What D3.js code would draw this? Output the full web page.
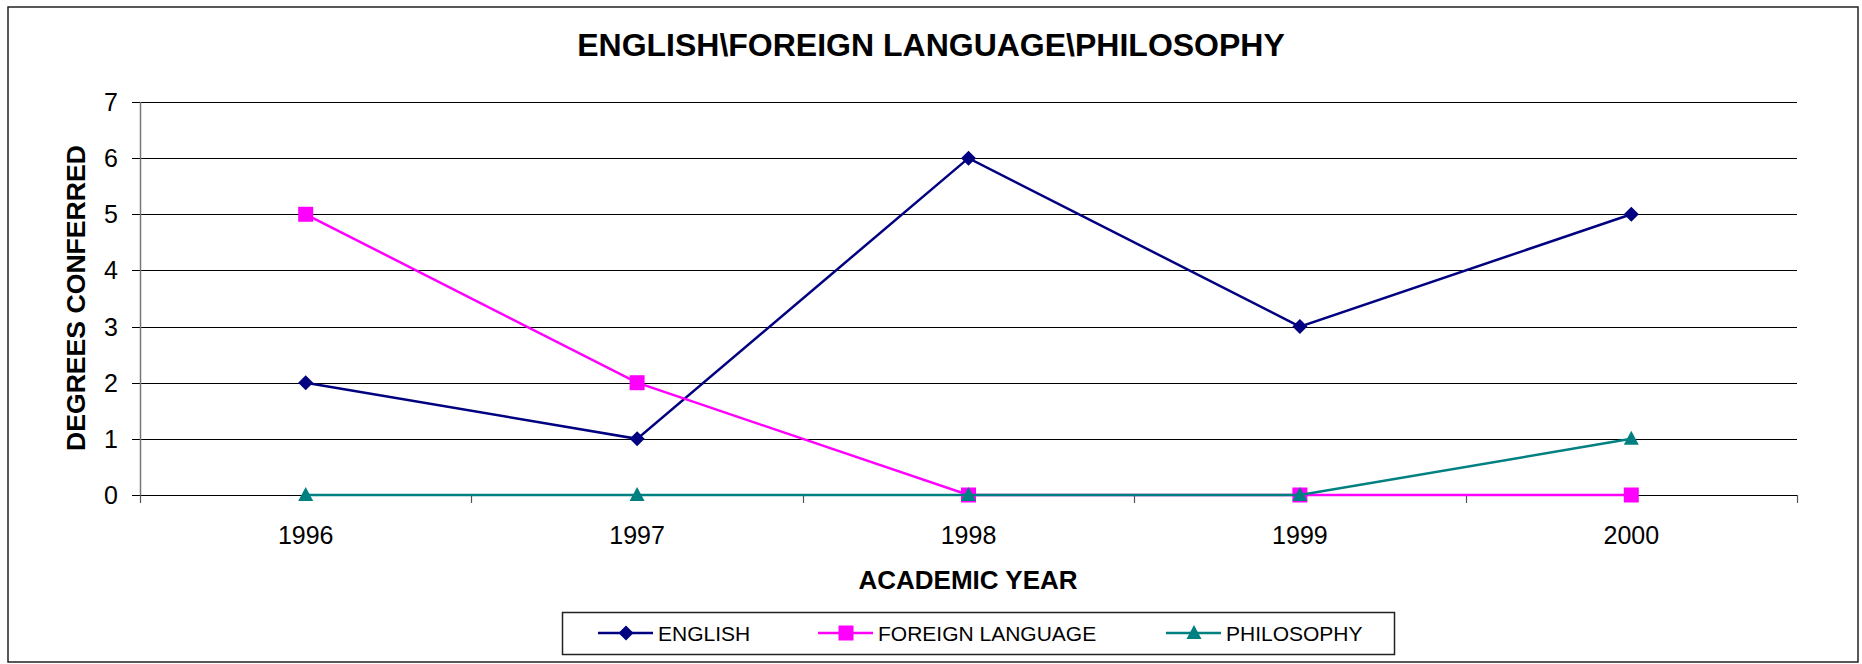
<!DOCTYPE html>
<html>
<head>
<meta charset="utf-8">
<script src="https://cdn.jsdelivr.net/npm/d3@7"></script>
<style>
  html, body { margin: 0; padding: 0; background: #fff; }
  svg text { font-family: Arial, "Liberation Sans", sans-serif; fill: #000; }
</style>
</head>
<body>
<div id="chart"></div>
<script>
// Data
var years = ["1996", "1997", "1998", "1999", "2000"];
var english = [2, 1, 6, 3, 5];
var foreign_language = [5, 2, 0, 0, 0];
var philosophy = [0, 0, 0, 0, 1];
var y_ticks = [0, 1, 2, 3, 4, 5, 6, 7];
var series_names = ["ENGLISH", "FOREIGN LANGUAGE", "PHILOSOPHY"];

(function () {
  "use strict";

  ////////////////////////////////////////////////////////////////////////////////////////////////////////////
  //
  // Variables
  //
  var w = 1862;
  var h = 664;
  var plot_l = 140, plot_r = 1797, plot_t = 102, plot_b = 495;

  var series = [
    {name: series_names[0], values: english, color: "#000080", marker: "diamond"},
    {name: series_names[1], values: foreign_language, color: "#ff00ff", marker: "square"},
    {name: series_names[2], values: philosophy, color: "#008080", marker: "triangle"}
  ];

  var x = d3.scaleBand().domain(years).range([plot_l, plot_r]);
  var y = d3.scaleLinear().domain([0, 7]).range([plot_b, plot_t]);

  var svg = d3.select("#chart")
    .append("svg")
    .attr("width", w)
    .attr("height", h);

  ////////////////////////////////////////////////////////////////////////////////////////////////////////////
  //
  // Private methods
  //
  function xc(d) {
    return x(d) + x.bandwidth() / 2;
  }

  function drawMarker(g, type, cx, cy, color) {
    if (type == "diamond") {
      g.append("path")
        .attr("d", "M" + cx + "," + (cy - 7.5) + "L" + (cx + 7.5) + "," + cy + "L" + cx + "," + (cy + 7.5) + "L" + (cx - 7.5) + "," + cy + "Z")
        .attr("fill", color);
    } else if (type == "square") {
      g.append("rect")
        .attr("x", cx - 7.5).attr("y", cy - 7.5)
        .attr("width", 15).attr("height", 15)
        .attr("fill", color);
    } else {
      g.append("path")
        .attr("d", "M" + cx + "," + (cy - 8) + "L" + (cx + 7.5) + "," + (cy + 6) + "L" + (cx - 7.5) + "," + (cy + 6) + "Z")
        .attr("fill", color);
    }
  }

  ////////////////////////////////////////////////////////////////////////////////////////////////////////////
  //
  // Frame and title
  //
  svg.append("rect")
    .attr("x", 8).attr("y", 7)
    .attr("width", 1850).attr("height", 655)
    .attr("fill", "none")
    .attr("stroke", "#222")
    .attr("stroke-width", 1.5);

  svg.append("text")
    .attr("x", 931).attr("y", 56)
    .attr("text-anchor", "middle")
    .style("font-size", "32px")
    .style("font-weight", "bold")
    .text("ENGLISH\\FOREIGN LANGUAGE\\PHILOSOPHY");

  ////////////////////////////////////////////////////////////////////////////////////////////////////////////
  //
  // Grid and axes
  //
  svg.append("g")
    .selectAll("line")
    .data(y_ticks)
    .enter()
    .append("line")
    .attr("x1", plot_l - 8).attr("x2", plot_r)
    .attr("y1", function (d) { return Math.round(y(d)) + 0.5; })
    .attr("y2", function (d) { return Math.round(y(d)) + 0.5; })
    .attr("stroke", "#000")
    .attr("stroke-width", 1);

  svg.append("line")
    .attr("x1", plot_l + 0.5).attr("x2", plot_l + 0.5)
    .attr("y1", plot_t).attr("y2", plot_b)
    .attr("stroke", "#777").attr("stroke-width", 1.5);

  // x ticks at category boundaries
  var bounds = years.map(function (d) { return x(d); }).concat([plot_r]);
  svg.append("g")
    .selectAll("line")
    .data(bounds)
    .enter()
    .append("line")
    .attr("x1", function (d) { return Math.round(d) + 0.5; })
    .attr("x2", function (d) { return Math.round(d) + 0.5; })
    .attr("y1", plot_b).attr("y2", plot_b + 8)
    .attr("stroke", "#555").attr("stroke-width", 1.2);

  svg.append("g")
    .selectAll("text")
    .data(y_ticks)
    .enter()
    .append("text")
    .attr("x", 118)
    .attr("y", function (d) { return y(d) + 9; })
    .attr("text-anchor", "end")
    .style("font-size", "25px")
    .text(function (d) { return d; });

  svg.append("g")
    .selectAll("text")
    .data(years)
    .enter()
    .append("text")
    .attr("x", xc)
    .attr("y", 544)
    .attr("text-anchor", "middle")
    .style("font-size", "25px")
    .text(function (d) { return d; });

  svg.append("text")
    .attr("x", 968).attr("y", 589)
    .attr("text-anchor", "middle")
    .style("font-size", "26px")
    .style("font-weight", "bold")
    .text("ACADEMIC YEAR");

  svg.append("text")
    .attr("transform", "translate(85," + 298 + ") rotate(-90)")
    .attr("text-anchor", "middle")
    .style("font-size", "26px")
    .style("font-weight", "bold")
    .attr("textLength", 306)
    .attr("lengthAdjust", "spacingAndGlyphs")
    .text("DEGREES CONFERRED");

  ////////////////////////////////////////////////////////////////////////////////////////////////////////////
  //
  // Series
  //
  var line = d3.line()
    .x(function (d, i) { return xc(years[i]); })
    .y(function (d) { return y(d); });

  series.forEach(function (s) {
    var g = svg.append("g");
    g.append("path")
      .attr("d", line(s.values))
      .attr("fill", "none")
      .attr("stroke", s.color)
      .attr("stroke-width", 2.5);
    s.values.forEach(function (v, i) {
      drawMarker(g, s.marker, xc(years[i]), y(v), s.color);
    });
  });

  ////////////////////////////////////////////////////////////////////////////////////////////////////////////
  //
  // Legend
  //
  svg.append("rect")
    .attr("x", 562.5).attr("y", 612.5)
    .attr("width", 832).attr("height", 42)
    .attr("fill", "#fff")
    .attr("stroke", "#222")
    .attr("stroke-width", 1.5);

  var legend_x = [598, 818, 1166];
  series.forEach(function (s, i) {
    var g = svg.append("g");
    var lx = legend_x[i];
    g.append("line")
      .attr("x1", lx).attr("x2", lx + 55)
      .attr("y1", 633).attr("y2", 633)
      .attr("stroke", s.color)
      .attr("stroke-width", 2.5);
    drawMarker(g, s.marker, lx + 28, 633, s.color);
    g.append("text")
      .attr("x", lx + 60)
      .attr("y", 641)
      .style("font-size", "21px")
      .text(s.name);
  });
})();
</script>
</body>
</html>
